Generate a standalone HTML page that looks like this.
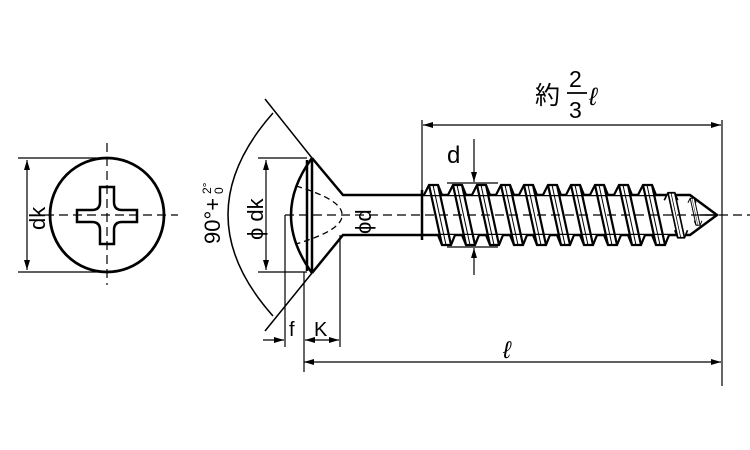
<!DOCTYPE html>
<html><head><style>body{margin:0;background:#fff}svg{display:block}text{font-family:"Liberation Sans","Noto Sans CJK JP",sans-serif;fill:#000}</style></head><body>
<svg width="750" height="450" viewBox="0 0 750 450" xmlns="http://www.w3.org/2000/svg">
<defs>
<marker id="a" viewBox="0 0 10 10" refX="10" refY="5" markerWidth="10" markerHeight="10" orient="auto-start-reverse" markerUnits="userSpaceOnUse"><path d="M0,2 L10,5 L0,8z" fill="#000"/></marker>
<g id="t" fill="#fff" stroke="#000" stroke-width="2.2">
<path d="M-9,195 L-4,185 L5,185 L9,195 M5,235 L9,245 L18,245 L22,235"/>
<path d="M-4,185 L9,245 M5,185 L18,245" fill="none"/>
<path d="M0,185 L13,245" fill="none" stroke-width="1"/>
</g>
</defs>
<g stroke="#000" fill="none">
<circle cx="107" cy="215" r="57" stroke-width="2.8"/>
<path d="M100,187 h14 v15 q0,8 8,8 h15 v12 h-15 q-8,0 -8,8 v14 h-14 v-14 q0,-8 -8,-8 h-15 v-12 h15 q8,0 8,-8z" stroke-width="2.5"/>
<path d="M45,215 H178 M107,143 V285" stroke-width="1.2" stroke-dasharray="9,5"/>
<path d="M18,158 H100 M18,272 H100" stroke-width="1.2"/>
<path d="M27,160 V270" stroke-width="1.2" marker-start="url(#a)" marker-end="url(#a)"/>
<path d="M312,158 Q270,215 312,273" stroke-width="2.5"/>
<path d="M312,158 V273 M307,160 V271" stroke-width="2.5"/>
<path d="M312,158 L343,195 H422 M312,273 L343,235 H422" stroke-width="2.5"/>
<path d="M265,99 L312,158 M312,273 L265,331" stroke-width="1.5"/>
<path d="M296,186 Q343,200 342,215 Q343,230 296,244" stroke-width="1.3" stroke-dasharray="6,4"/>
<path d="M273,113 Q183,215 273,316" stroke-width="1.5"/>
<path d="M258,158 H307 M258,272 H307" stroke-width="1.2"/>
<path d="M266,160 V270" stroke-width="1.2" marker-start="url(#a)" marker-end="url(#a)"/>
<path d="M285,215 V347 M304,272 V372 M340,235 V347" stroke-width="1.2"/>
<path d="M263,340 H284" stroke-width="1.2" marker-end="url(#a)"/>
<path d="M305,340 H339" stroke-width="1.2" marker-start="url(#a)" marker-end="url(#a)"/>
<path d="M422,195 H690 L717,215 L690,235 H422" stroke-width="2.5"/>
<path d="M422,190 V240" stroke-width="2.5"/>
<path d="M285,215 H750" stroke-width="1.2" stroke-dasharray="9,5"/>
</g>
<use href="#t" x="433"/><use href="#t" x="457"/><use href="#t" x="481"/><use href="#t" x="505"/><use href="#t" x="528"/><use href="#t" x="552"/><use href="#t" x="575"/><use href="#t" x="599"/><use href="#t" x="623"/><use href="#t" x="647"/>
<use href="#t" transform="translate(671,54) scale(0.75)"/>
<use href="#t" transform="translate(692,115) scale(0.45)"/>
<path d="M700,215 L717,215" stroke="#000" stroke-width="1.5"/>
<g stroke="#000" fill="none" stroke-width="1.2">
<path d="M422,120 V190 M722,120 V386"/>
<path d="M423,125 H721" marker-start="url(#a)" marker-end="url(#a)"/>
<path d="M304,362 H721" marker-start="url(#a)" marker-end="url(#a)"/>
<path d="M447,183 H498 M447,247 H498"/>
<path d="M474,139 V182" marker-end="url(#a)"/>
<path d="M474,275 V248" marker-end="url(#a)"/>
</g>
<text x="447" y="163" font-size="24">d</text>
<text x="289" y="336" font-size="20">f</text>
<text x="314" y="336" font-size="20">K</text>
<text x="503" y="358" font-size="24" font-style="italic">ℓ</text>
<text x="535" y="104" font-size="25">約</text>
<text x="569" y="87" font-size="23">2</text>
<path d="M567,93 H587" stroke="#000" stroke-width="1.8"/>
<text x="569" y="118" font-size="23">3</text>
<text x="589" y="105" font-size="25" font-style="italic">ℓ</text>
<text transform="translate(45,230) rotate(-90)" font-size="22">dk</text>
<text transform="translate(263,240) rotate(-90)" font-size="22">ϕ dk</text>
<text transform="translate(371,234) rotate(-90)" font-size="22">ϕd</text>
<text transform="translate(220,244) rotate(-90)" font-size="22">90°+</text>
<text transform="translate(211,194) rotate(-90)" font-size="12">2°</text>
<text transform="translate(223,194) rotate(-90)" font-size="12">0</text>
</svg>
</body></html>
